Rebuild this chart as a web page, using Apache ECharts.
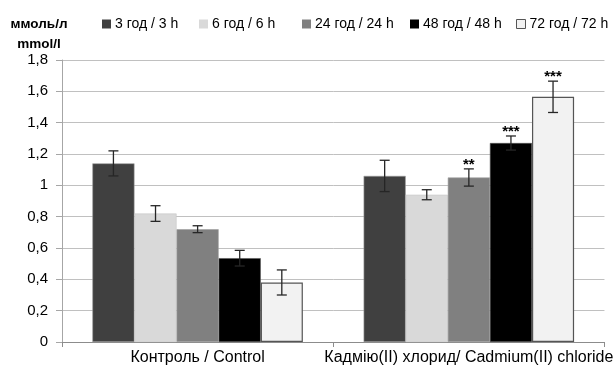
<!DOCTYPE html>
<html><head><meta charset="utf-8">
<script src="https://cdn.jsdelivr.net/npm/echarts@6/dist/echarts.min.js"></script>
<style>html,body{margin:0;padding:0;background:#fff}#c{width:615px;height:370px}</style>
</head><body><div id="c"></div>
<script>
const categories = ['Контроль / Control', 'Кадмію(II) хлорид/ Cadmium(II) chloride'];
const seriesNames = ['3 год / 3 h', '6 год / 6 h', '24 год / 24 h', '48 год / 48 h', '72 год / 72 h'];
const values3h = [1.14, 1.06];
const values6h = [0.82, 0.94];
const values24h = [0.72, 1.05];
const values48h = [0.535, 1.27];
const values72h = [0.38, 1.565];
const err3h = [0.08, 0.1];
const err6h = [0.05, 0.032];
const err24h = [0.022, 0.055];
const err48h = [0.05, 0.045];
const err72h = [0.08, 0.1];
const stars3h = ['', ''];
const stars6h = ['', ''];
const stars24h = ['', '**'];
const stars48h = ['', '***'];
const stars72h = ['', '***'];
const yTicks = [0, 0.2, 0.4, 0.6, 0.8, 1, 1.2, 1.4, 1.6, 1.8];
const unitLabel = 'ммоль/л\nmmol/l';

const values = [values3h, values6h, values24h, values48h, values72h];
const errs = [err3h, err6h, err24h, err48h, err72h];
const stars = [stars3h, stars6h, stars24h, stars48h, stars72h];
const colors = ['#404040', '#d9d9d9', '#808080', '#000000', '#f2f2f2'];
const borders = ['#9a9a9a', '#c8c8c8', '#a0a0a0', '#555555', '#555555'];
const legendLeft = [102, 199, 302, 410, 516];
const FONT = 'Liberation Sans, Arial, sans-serif';
const GAP = 0.224;

const chart = echarts.init(document.getElementById('c'), null, {renderer: 'canvas'});
const series = [];
seriesNames.forEach((n, i) => {
  series.push({
    name: n, type: 'bar', data: values[i],
    barGap: '0%', barCategoryGap: (GAP * 100) + '%',
    itemStyle: {color: colors[i], borderColor: borders[i], borderWidth: i === 4 ? 1.2 : 0.6},
    emphasis: {disabled: true}, animation: false
  });
});
seriesNames.forEach((n, i) => {
  series.push({
    type: 'custom', animation: false, silent: true, z: 10,
    data: values[i].map((v, k) => [k, v, errs[i][k]]),
    renderItem: function (params, api) {
      const k = api.value(0), v = api.value(1), e = api.value(2);
      const band = api.size([1, 0])[0];
      const bw = band * (1 - GAP) / 5;
      const c = api.coord([k, v]);
      const x = c[0] + (i - 2) * bw;
      const yt = api.coord([k, v + e])[1];
      const yb = api.coord([k, v - e])[1];
      const cap = 5;
      const st = {stroke: '#262626', lineWidth: 1.3};
      const children = [
        {type: 'line', shape: {x1: x, y1: yt, x2: x, y2: yb}, style: st},
        {type: 'line', shape: {x1: x - cap, y1: yt, x2: x + cap, y2: yt}, style: st},
        {type: 'line', shape: {x1: x - cap, y1: yb, x2: x + cap, y2: yb}, style: st}
      ];
      const s = stars[i][k];
      if (s) {
        children.push({type: 'text', x: x, y: yt + 3, style: {text: s, fill: '#000', font: 'bold 15px ' + FONT, align: 'center', verticalAlign: 'bottom'}});
      }
      return {type: 'group', children: children};
    }
  });
});

const legends = seriesNames.map((n, i) => ({
  top: 17, left: legendLeft[i], padding: 0, itemWidth: 9, itemHeight: 9, icon: 'rect',
  data: [{name: n, itemStyle: {borderColor: i === 4 ? '#555' : colors[i], borderWidth: i === 4 ? 1 : 0}}],
  textStyle: {fontFamily: FONT, fontSize: 14, color: '#000', padding: [0, 0, 0, -1]},
  selectedMode: false
}));

chart.setOption({
  animation: false,
  backgroundColor: '#fff',
  grid: {left: 62, right: 5, top: 60, bottom: 28, containLabel: false},
  legend: legends,
  graphic: [{
    type: 'text', x: 39, y: 14,
    style: {text: unitLabel, font: 'bold 13.5px ' + FONT, fill: '#000', align: 'center', lineHeight: 20}
  }],
  xAxis: {
    type: 'category', data: categories,
    axisLine: {lineStyle: {color: '#8c8c8c'}},
    axisTick: {show: true, lineStyle: {color: '#8c8c8c'}, length: 5},
    axisLabel: {fontFamily: FONT, fontSize: 16, color: '#000', margin: 8, interval: 0}
  },
  yAxis: {
    type: 'value', min: 0, max: 1.8, interval: 0.2,
    axisLine: {show: true, lineStyle: {color: '#a6a6a6'}},
    axisTick: {show: true, length: 6, lineStyle: {color: '#a6a6a6'}},
    splitLine: {lineStyle: {color: '#c0c0c0'}},
    axisLabel: {fontFamily: FONT, fontSize: 15, color: '#000', margin: 14,
      formatter: v => { const t = yTicks.find(q => Math.abs(q - v) < 1e-6); return (t === undefined ? v : t).toString().replace('.', ','); }}
  },
  series: series
});
</script></body></html>
